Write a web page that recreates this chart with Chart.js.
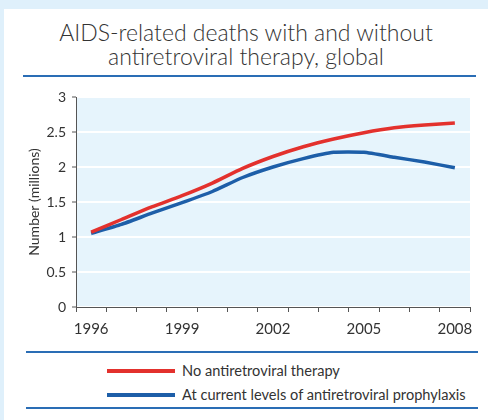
<!DOCTYPE html>
<html lang="en">
<head>
  <meta charset="UTF-8" />
  <title>AIDS-related deaths with and without antiretroviral therapy, global</title>
  <script src="https://cdn.jsdelivr.net/npm/chart.js"></script>
  <style>
    body { margin: 0; background: #dff0fb; font-family: Lato, "Open Sans", sans-serif; color: #333; }
    #panel { position: absolute; left: 4px; top: 9px; width: 484px; height: 420px; background: #fff; }
    #title { position: absolute; left: 0; top: 11px; width: 484px; text-align: center; font-size: 23px; line-height: 24px; font-weight: 300; color: #333; }
    .rule { position: absolute; height: 2px; background: #2a6db5; }
    #wrap { position: absolute; left: -4px; top: 67px; width: 484px; height: 264px; }
    .leg { position: absolute; left: 103px; font-size: 14.6px; line-height: 16px; color: #333; }
    .leg span { display: inline-block; width: 68px; height: 4px; vertical-align: middle; margin-right: 7px; position: relative; top: -1px; }
  </style>
</head>
<body>
  <div id="panel">
    <div id="title">AIDS-related deaths with and without<br>antiretroviral therapy, global</div>
    <div class="rule" style="left:19px; top:66px; width:453px;"></div>
    <div id="wrap"><canvas id="chart"></canvas></div>
    <div class="rule" style="left:22px; top:342px; width:452px;"></div>
    <div class="leg" style="top:354px;"><span style="background:#e3312d"></span>No antiretroviral therapy</div>
    <div class="leg" style="top:378px;"><span style="background:#1d5ea8"></span>At current levels of antiretroviral prophylaxis</div>
    <div class="rule" style="left:22px; top:398px; width:452px;"></div>
  </div>

  <script>
    // data (millions)
    const years = ['1996', '1997', '1998', '1999', '2000', '2001', '2002', '2003', '2004', '2005', '2006', '2007', '2008'];
    const noTherapy = [1.07, 1.25, 1.43, 1.59, 1.77, 1.98, 2.15, 2.29, 2.40, 2.49, 2.56, 2.60, 2.63];
    const currentLevels = [1.05, 1.18, 1.34, 1.49, 1.65, 1.85, 2.00, 2.12, 2.21, 2.21, 2.14, 2.07, 1.99];
    const shownYears = ['1996', '1999', '2002', '2005', '2008'];

    const plotBg = {
      id: 'plotBg',
      beforeDraw(chart) {
        const a = chart.chartArea;
        const ctx = chart.ctx;
        ctx.save();
        ctx.fillStyle = '#e6f4fc';
        ctx.fillRect(a.left, a.top, a.right - a.left, a.bottom - a.top);
        ctx.restore();
      }
    };

    const fam = 'Lato, "Open Sans", sans-serif';

    new Chart(document.getElementById('chart'), {
      type: 'line',
      data: {
        labels: years,
        datasets: [
          { label: 'No antiretroviral therapy', data: noTherapy, borderColor: '#e3312d', borderWidth: 3.5, pointRadius: 0, tension: 0.25, fill: false },
          { label: 'At current levels of antiretroviral prophylaxis', data: currentLevels, borderColor: '#1d5ea8', borderWidth: 3.5, pointRadius: 0, tension: 0.15, fill: false }
        ]
      },
      options: {
        responsive: true,
        maintainAspectRatio: false,
        animation: false,
        layout: { padding: { top: 21, right: 14, left: 0, bottom: 0 } },
        plugins: { legend: { display: false }, tooltip: { enabled: false } },
        scales: {
          x: {
            type: 'category',
            offset: true,
            grid: { offset: true, drawOnChartArea: false, drawTicks: true, tickLength: 5, tickColor: '#555', tickWidth: 1 },
            border: { color: '#555', width: 1 },
            ticks: {
              autoSkip: false, maxRotation: 0, padding: 8, color: '#333', font: { family: fam, size: 15 },
              callback: function (v) { const l = this.getLabelForValue(v); return shownYears.includes(l) ? l : ''; }
            },
            afterFit: s => { s.height = 33; }
          },
          y: {
            min: 0, max: 3,
            ticks: { stepSize: 0.5, color: '#333', font: { family: fam, size: 14 }, padding: 6, callback: v => String(v) },
            grid: { color: '#ffffff', lineWidth: 2, tickColor: '#555', tickLength: 4, tickWidth: 1 },
            border: { color: '#555', width: 1 },
            title: { display: true, text: 'Number (millions)', color: '#333', font: { family: fam, size: 14 }, padding: { top: 26, bottom: 0 } },
            afterFit: s => { s.width = 76; }
          }
        }
      },
      plugins: [plotBg]
    });
  </script>
</body>
</html>
